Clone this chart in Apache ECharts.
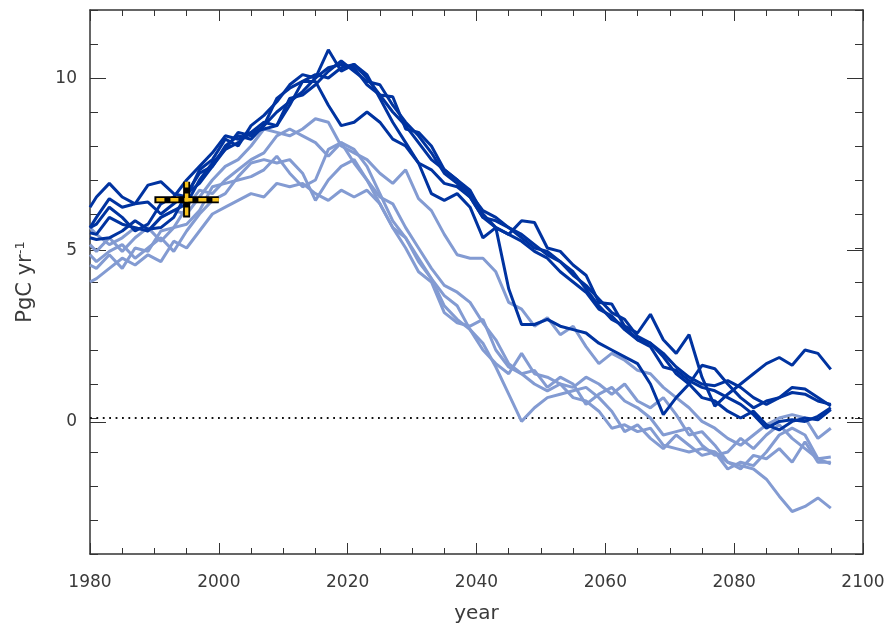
<!DOCTYPE html>
<html>
<head>
<meta charset="utf-8">
<script src="https://cdn.jsdelivr.net/npm/echarts@6/dist/echarts.min.js"></script>
<style>
html,body{margin:0;padding:0;background:#fff;}
#chart{width:888px;height:629px;}
</style>
</head>
<body>
<div id="chart"></div>
<script>
// ---- data ----
var years = [1980,1981,1983,1985,1987,1989,1991,1993,1995,1997,1999,2001,2003,2005,2007,2009,2011,2013,2015,2017,2019,2021,2023,2025,2027,2029,2031,2033,2035,2037,2039,2041,2043,2045,2047,2049,2051,2053,2055,2057,2059,2061,2063,2065,2067,2069,2071,2073,2075,2077,2079,2081,2083,2085,2087,2089,2091,2093,2095];

var dark1 = [6.2,6.5,6.9,6.5,6.3,6.85,6.95,6.6,6.5,7.3,7.6,8.2,8.0,8.6,8.9,9.3,9.8,10.1,10.0,10.3,10.4,10.3,9.8,9.5,9.45,8.5,8.4,8.0,7.3,7.0,6.7,6.0,5.6,5.4,5.8,5.75,5.0,4.9,4.5,4.2,3.4,3.35,2.7,2.5,3.05,2.3,1.9,2.45,1.2,0.35,0.7,1.0,1.3,1.6,1.78,1.55,2.0,1.9,1.43];
var dark2 = [5.6,5.9,6.45,6.2,6.3,6.35,6.0,6.3,6.6,6.9,7.4,8.0,8.3,8.2,8.6,9.0,9.3,9.6,10.0,10.83,10.2,10.4,10.1,9.4,8.7,8.1,7.5,6.6,6.4,6.6,6.2,5.3,5.6,3.8,2.75,2.75,2.9,2.7,2.6,2.5,2.2,2.0,1.8,1.6,1.0,0.1,0.6,1.0,1.55,1.45,1.0,0.6,0.3,0.5,0.6,0.75,0.7,0.5,0.4];
var dark3 = [5.45,5.4,5.9,5.7,5.6,5.5,5.9,6.1,6.3,7.0,7.5,7.9,8.1,8.4,8.5,8.6,9.2,9.9,9.9,9.2,8.6,8.7,9.0,8.7,8.2,8.0,7.5,7.3,6.9,6.8,6.5,5.9,5.6,5.4,5.2,4.9,4.7,4.3,4.0,3.7,3.2,3.0,2.6,2.3,2.1,1.5,1.4,1.1,0.9,0.8,0.6,0.4,0.1,-0.3,-0.1,-0.05,-0.1,0.05,0.3];
var dark4 = [5.3,5.25,5.3,5.5,5.8,5.55,5.6,5.9,6.6,7.2,7.4,7.9,8.4,8.3,8.6,9.4,9.7,9.9,10.1,10.0,10.3,10.4,10.0,9.5,9.0,8.6,8.1,7.6,7.3,7.0,6.6,6.1,5.9,5.6,5.3,5.0,4.9,4.6,4.2,3.9,3.5,3.1,2.9,2.4,2.2,1.9,1.5,1.2,1.0,0.95,1.1,0.9,0.6,0.4,0.6,0.9,0.85,0.6,0.35];
var dark5 = [5.6,5.7,6.2,5.9,5.5,5.7,6.3,6.5,7.0,7.4,7.8,8.3,8.2,8.4,8.7,8.6,9.4,9.5,9.8,10.2,10.5,10.2,9.9,9.8,9.2,8.7,8.3,7.8,7.2,6.9,6.5,5.9,5.8,5.6,5.4,5.1,4.8,4.6,4.3,3.8,3.3,2.9,2.7,2.3,2.2,1.8,1.3,1.0,0.6,0.5,0.2,0.0,0.2,-0.2,-0.35,-0.1,0.0,-0.05,0.25];

var light1 = [5.6,5.4,5.1,5.3,5.6,5.5,5.9,6.1,6.0,6.5,7.0,7.4,7.6,8.0,8.5,8.4,8.3,8.5,8.8,8.7,8.0,7.8,7.6,7.2,6.9,7.3,6.45,6.1,5.4,4.8,4.7,4.7,4.3,3.4,3.2,2.7,2.95,2.45,2.7,2.1,1.6,1.9,1.7,1.4,1.3,0.9,0.6,0.3,-0.1,-0.3,-0.6,-0.8,-0.5,-0.2,0.0,0.1,0.0,-0.6,-0.3];
var light2 = [5.1,4.9,5.3,4.9,5.3,5.6,5.2,5.6,6.2,6.7,6.6,7.0,7.3,7.6,7.8,8.3,8.5,8.3,8.1,7.7,8.1,7.9,7.4,6.6,5.8,5.3,4.6,4.1,3.3,2.9,2.6,2.2,1.5,0.7,-0.1,0.3,0.6,0.7,0.8,0.9,0.6,0.2,-0.4,-0.2,-0.6,-0.9,-0.5,-0.8,-1.1,-1.0,-1.5,-1.3,-1.4,-1.0,-0.5,-0.3,-0.5,-1.2,-1.15];
var light3 = [4.8,4.6,4.9,5.1,4.7,5.0,5.3,4.9,5.5,6.0,6.4,6.6,7.1,7.5,7.6,7.5,7.6,7.2,6.4,7.0,7.4,7.6,7.0,6.3,5.6,5.0,4.3,4.0,3.1,2.8,2.7,2.9,2.0,1.5,1.3,1.4,0.9,1.2,1.0,0.4,0.7,0.9,0.5,0.3,0.0,-0.5,-0.4,-0.3,-0.8,-1.1,-1.0,-0.6,-0.9,-0.5,-0.2,-0.6,-0.9,-1.2,-1.35];
var light4 = [4.0,4.1,4.4,4.7,4.5,4.8,4.6,5.2,5.0,5.5,6.0,6.2,6.4,6.6,6.5,6.9,6.8,6.9,6.6,6.4,6.7,6.5,6.7,6.3,5.6,5.3,4.7,4.1,3.6,3.3,2.6,2.0,1.6,1.3,1.9,1.3,1.2,1.0,0.6,0.5,0.2,-0.3,-0.2,-0.4,-0.3,-0.8,-0.9,-1.0,-0.9,-1.0,-1.3,-1.4,-1.5,-1.8,-2.3,-2.75,-2.6,-2.35,-2.65];
var light5 = [4.5,4.4,4.8,4.4,5.0,4.9,5.5,5.6,5.7,6.1,6.8,6.9,7.0,7.1,7.3,7.7,7.2,6.8,7.0,7.9,8.1,7.5,7.0,6.5,6.3,5.6,5.0,4.4,3.9,3.7,3.4,2.8,2.3,1.6,1.3,1.0,0.8,1.0,0.9,1.2,1.0,0.7,1.0,0.5,0.3,0.6,0.1,-0.5,-0.4,-0.8,-1.3,-1.5,-1.1,-1.2,-0.9,-1.3,-0.7,-1.3,-1.3];

var obsYears = [1990, 2000];   // horizontal bar of observation cross
var obsRange = [5.9, 6.95];    // vertical bar of observation cross
var obsCentre = [1995, 6.42];

var yMin = -4, yMax = 12;      // visible value range
var yMajorMin = 0, yMajorMax = 10, yMajorStep = 5;  // labelled ticks

// ---- chart ----
var DARK = '#0033a0';
var LIGHT = '#839bd2';
function pairs(arr){ return years.map(function(y,i){ return [y, arr[i]]; }); }

var chart = echarts.init(document.getElementById('chart'), null, {renderer:'canvas'});
var AX = '#333';
var TXT = '#3a3a3a';
var FONT = 'DejaVu Sans';

// plot geometry
var G = {left:90, right:25, top:10, bottom:70};
var plotH = 629 - G.top - G.bottom;
var pxPerUnit = plotH / (yMax - yMin);
// second grid covering exactly 0..10 for the long ticks
var G2 = {left:G.left, right:G.right,
  top: G.top + (yMax - yMajorMax) * pxPerUnit,
  bottom: G.bottom + (yMajorMin - yMin) * pxPerUnit};

function fmt(v){ return String(v); }

function xAx(pos, labels){
  return {
    type:'value', gridIndex:0, position:pos, min:1980, max:2100, interval:20,
    axisLine:{show:true, onZero:false, lineStyle:{color:AX, width:1.5}},
    axisTick:{show:true, inside:true, length:11, lineStyle:{color:AX, width:1}},
    minorTick:{show:true, splitNumber:4, length:6, lineStyle:{color:AX, width:1}},
    splitLine:{show:false},
    axisLabel:{show:labels, margin:20, color:TXT, fontFamily:FONT, fontSize:17, formatter:fmt},
    name: labels ? 'year' : '', nameLocation:'middle', nameGap:50,
    nameTextStyle:{color:TXT, fontFamily:FONT, fontSize:20}
  };
}
function yMinorAx(pos, labels){
  var o = {
    type:'value', gridIndex:0, position:pos, min:yMin, max:yMax, interval:1,
    axisLine:{show:true, onZero:false, lineStyle:{color:AX, width:1.5}},
    axisTick:{show:true, inside:true, length:8, lineStyle:{color:AX, width:1}},
    splitLine:{show:false},
    axisLabel:{show:false}
  };
  if (labels) {
    o.name = 'PgC yr{s|-1}';
    o.nameLocation = 'middle';
    o.nameGap = 53;
    o.nameRotate = 90;
    o.nameTextStyle = {color:TXT, fontFamily:FONT, fontSize:21,
      rich:{s:{fontFamily:FONT, fontSize:13, color:TXT, verticalAlign:'top', padding:[0,0,10,0]}}};
  }
  return o;
}
function yMajorAx(pos, labels){
  return {
    type:'value', gridIndex:1, position:pos, min:yMajorMin, max:yMajorMax, interval:yMajorStep,
    axisLine:{show:false},
    axisTick:{show:true, inside:true, length:16, lineStyle:{color:AX, width:1}},
    splitLine:{show:false},
    axisLabel:{show:labels, margin:13, color:TXT, fontFamily:FONT, fontSize:17, formatter:fmt}
  };
}

var lightSets = [light1, light2, light3, light4, light5];
var darkSets = [dark1, dark2, dark3, dark4, dark5];
var series = [];
series.push({
  type:'line', data:[[1980,0],[2100,0]], symbol:'none', silent:true,
  lineStyle:{color:'#111', width:1.8, type:[1.8,4.6]}, z:1
});
lightSets.forEach(function(s){
  series.push({type:'line', data:pairs(s), symbol:'none', lineStyle:{color:LIGHT, width:3}, z:2});
});
darkSets.forEach(function(s){
  series.push({type:'line', data:pairs(s), symbol:'none', lineStyle:{color:DARK, width:3}, z:3});
});
// observation cross
series.push({type:'line', data:[[obsYears[0],obsCentre[1]],[obsYears[1],obsCentre[1]]], symbol:'none',
  lineStyle:{color:'#000', width:7, cap:'butt'}, z:5});
series.push({type:'line', data:[[obsCentre[0],obsRange[0]],[obsCentre[0],obsRange[1]]], symbol:'none',
  lineStyle:{color:'#000', width:7, cap:'butt'}, z:5});
series.push({type:'line', data:[[obsYears[0],obsCentre[1]],[obsYears[1],obsCentre[1]]], symbol:'none',
  lineStyle:{color:'#f7c21a', width:3.5, type:[8,6], dashOffset:-2, cap:'butt'}, z:6});
series.push({type:'line', data:[[obsCentre[0],obsRange[0]],[obsCentre[0],obsRange[1]]], symbol:'none',
  lineStyle:{color:'#f7c21a', width:3.5, type:[8,6], dashOffset:-2, cap:'butt'}, z:6});

chart.setOption({
  animation:false,
  backgroundColor:'#fff',
  grid:[
    {left:G.left, right:G.right, top:G.top, bottom:G.bottom, containLabel:false},
    {left:G2.left, right:G2.right, top:G2.top, bottom:G2.bottom, containLabel:false}
  ],
  xAxis:[xAx('bottom', true), xAx('top', false),
    {type:'value', gridIndex:1, min:1980, max:2100, show:false}],
  yAxis:[yMinorAx('left', true), yMinorAx('right', false), yMajorAx('left', true), yMajorAx('right', false)],
  series:series
});
</script>
</body>
</html>
